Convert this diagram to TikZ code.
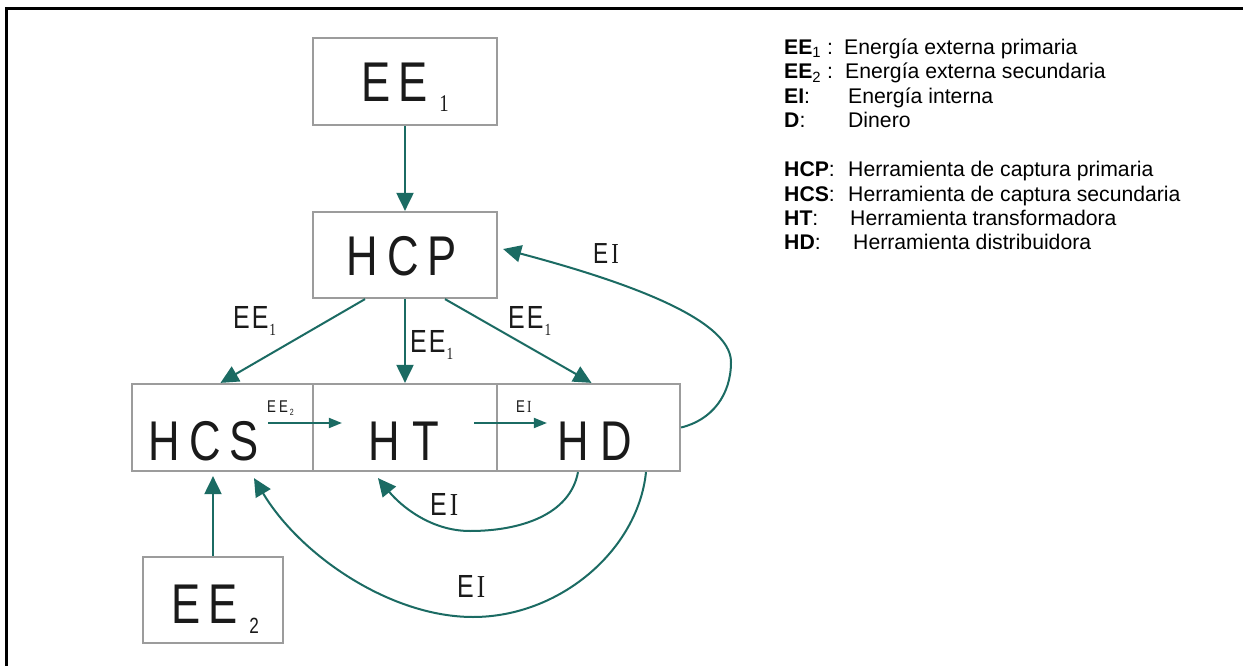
\documentclass[tikz,border=0pt]{standalone}
\usepackage{fontspec}
\setmainfont{Liberation Sans}
\newfontfamily\dsans[FakeStretch=0.78]{Liberation Sans}
\newfontfamily\dserif[FakeStretch=0.78]{Liberation Serif}
\usetikzlibrary{arrows.meta,calc}
\definecolor{arrowteal}{HTML}{1B6B63}
\definecolor{boxgray}{HTML}{9C9C9C}
\definecolor{inkdark}{HTML}{1A1A1A}
\tikzset{
  box/.style={draw=boxgray, line width=2.2pt, inner sep=0pt, anchor=center},
  conn/.style={draw=arrowteal, line width=2pt, -{Triangle[length=18pt,width=17pt]}},
  smallconn/.style={draw=arrowteal, line width=1.8pt, -{Triangle[length=13pt,width=10pt]}},
  bigtxt/.style={font=\fontsize{56}{56}\dsans, text=inkdark, inner sep=0pt, anchor=base},
  midtxt/.style={font=\fontsize{32}{32}\dsans, text=inkdark, inner sep=0pt, anchor=base west},
  smalltxt/.style={font=\fontsize{17}{17}\dsans, text=inkdark, inner sep=0pt, anchor=base west},
  legline/.style={font=\fontsize{21.2}{24}\selectfont, text=black, inner sep=0pt, anchor=base west},
}
\begin{document}
\begin{tikzpicture}[x=1pt,y=-1pt]
\useasboundingbox (0,0) rectangle (1243,666);
\fill[white] (0,0) rectangle (1243,666);
% outer frame
\draw[line width=2.6pt] (6.5,666) -- (6.5,8.5) -- (1243,8.5);

% boxes
\node[box, minimum width=184pt, minimum height=87pt] (ee1) at (405,81.5) {};
\node[box, minimum width=184pt, minimum height=86pt] (hcp) at (405,255) {};
\node[box, minimum width=181pt, minimum height=87pt] (hcs) at (222.5,427.5) {};
\node[box, minimum width=184pt, minimum height=87pt] (ht) at (405,427.5) {};
\node[box, minimum width=183pt, minimum height=87pt] (hd) at (588.5,427.5) {};
\node[box, minimum width=140pt, minimum height=86pt] (ee2) at (213,600) {};

% box texts
\node[bigtxt] (ee1t) at (405,102) {E\kern8pt E\kern12pt\raisebox{-10pt}{\fontsize{24}{24}\dserif 1}};
\node[bigtxt] (hcpt) at (402,275) {H\kern9pt C\kern9pt P};
\node[bigtxt] (hcst) at (204,460) {H\kern9pt C\kern9pt S};
\node[bigtxt] (htt) at (404,460) {H\kern12pt T};
\node[bigtxt] (hdt) at (595,460) {H\kern12pt D};
\node[bigtxt] (ee2t) at (215,623) {E\kern8pt E\kern12pt\raisebox{-10pt}{\fontsize{22}{22}\dsans 2}};

% connectors
\draw[conn] (ee1.south) -- (hcp.north);
\draw[conn] ($(hcp.south)+(-40,0)$) -- ($(hcs.north)+(-2,0)$);
\draw[conn] (hcp.south) -- (ht.north);
\draw[conn] ($(hcp.south)+(40,0)$) -- ($(hd.north)+(3,0)$);
\draw[conn] (ee2.north) -- ($(hcs.south)+(-9.5,4)$);
\draw[smallconn] ($(hcs.east)+(-46,-4.5)$) -- ($(ht.west)+(30,-4.5)$);
\draw[smallconn] ($(ht.east)+(-24,-4.5)$) -- ($(hd.west)+(51,-4.5)$);
\draw[conn] ($(hd.south)+(-10.5,0)$) .. controls (570,515) and (520,531) .. (470,531)
   .. controls (430,531) and (400,505) .. ($(ht.south)+(-27,6)$);
\draw[conn] ($(hd.south)+(57.5,0)$) .. controls (638,550) and (560,617) .. (473,617)
   .. controls (390,617) and (300,555) .. ($(hcs.south)+(31.5,6)$);
\draw[conn] (hd.east) .. controls (712,420) and (731,395) .. (731,362)
   .. controls (731,318) and (620,280) .. ($(hcp.east)+(5,-6)$);

% connector labels
\node[midtxt] (lab1) at (233,328) {E\kern2pt E\kern1pt\raisebox{-7pt}{\fontsize{17}{17}\dserif 1}};
\node[midtxt] (lab2) at (410,352) {E\kern2pt E\kern1pt\raisebox{-7pt}{\fontsize{17}{17}\dserif 1}};
\node[midtxt] (lab3) at (508,328) {E\kern2pt E\kern1pt\raisebox{-7pt}{\fontsize{17}{17}\dserif 1}};
\node[smalltxt] (lab4) at (267,412) {E\kern3pt E\kern2pt\raisebox{-3pt}{\fontsize{9}{9}\dsans 2}};
\node[smalltxt] (lab5) at (516,412) {E\kern2pt{\dserif I}};
\node[midtxt, font=\fontsize{29}{29}\dsans] (lab6) at (593,263) {E\kern3pt{\dserif I}};
\node[midtxt] (lab7) at (430,515) {E\kern3pt{\dserif I}};
\node[midtxt] (lab8) at (457,597) {E\kern3pt{\dserif I}};

% legend
\node[legline] (leg1) at (784,54.6) {\makebox[60pt][l]{\textbf{EE}\textsubscript{1} :}Energía externa primaria};
\node[legline] (leg2) at (784,79) {\makebox[61pt][l]{\textbf{EE}\textsubscript{2} :}Energía externa secundaria};
\node[legline] (leg3) at (784,103.4) {\makebox[64pt][l]{\textbf{EI}:}Energía interna};
\node[legline] (leg4) at (784,127.8) {\makebox[64pt][l]{\textbf{D}:}Dinero};
\node[legline] (leg5) at (784,176.6) {\makebox[64pt][l]{\textbf{HCP}:}Herramienta de captura primaria};
\node[legline] (leg6) at (784,201) {\makebox[64pt][l]{\textbf{HCS}:}Herramienta de captura secundaria};
\node[legline] (leg7) at (784,225.4) {\makebox[66pt][l]{\textbf{HT}:}Herramienta transformadora};
\node[legline] (leg8) at (784,249.8) {\makebox[69pt][l]{\textbf{HD}:}Herramienta distribuidora};
\end{tikzpicture}
\end{document}
